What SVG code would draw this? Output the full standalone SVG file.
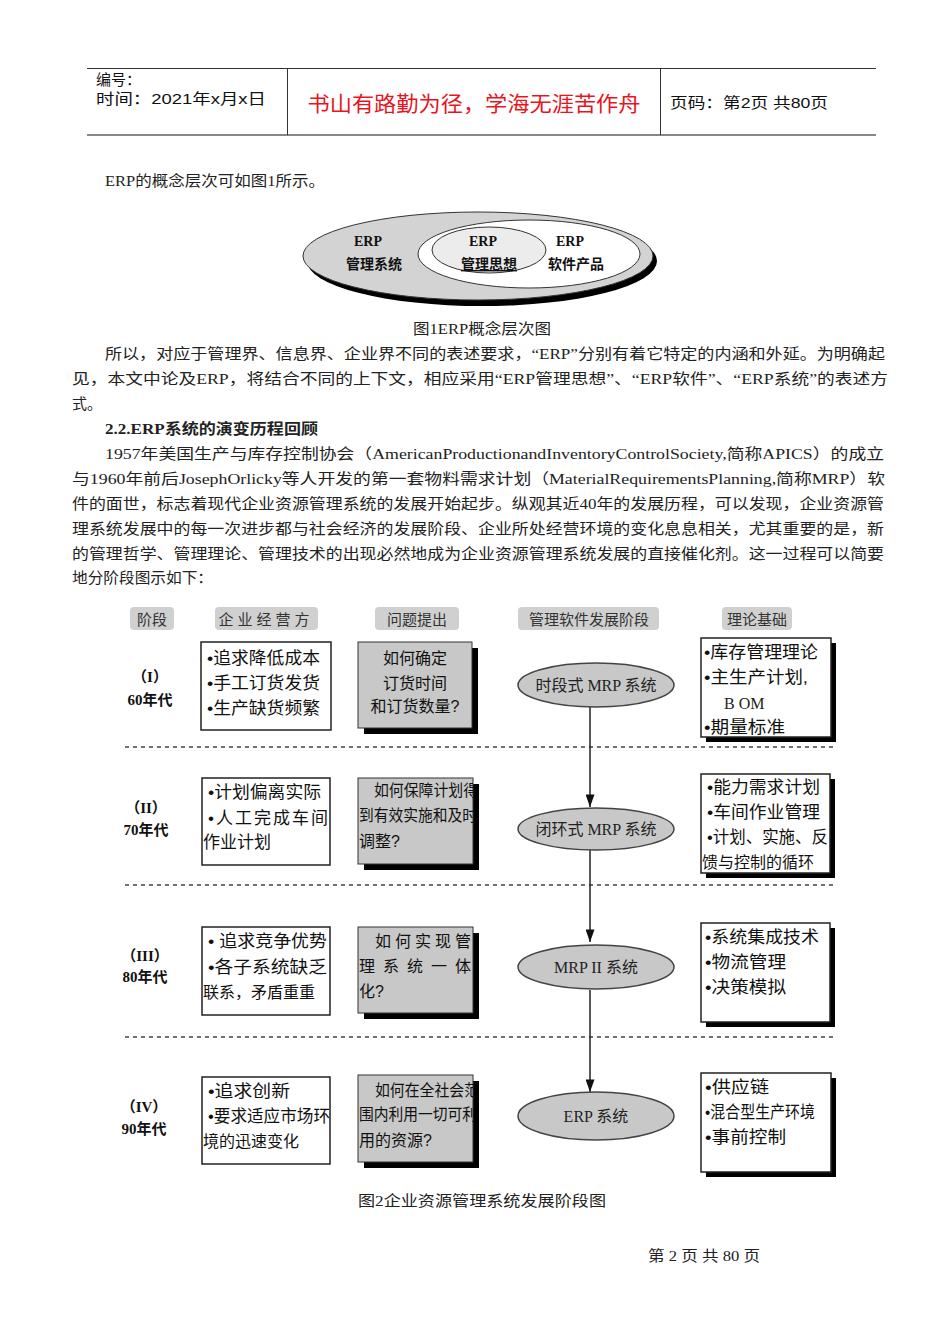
<svg xmlns="http://www.w3.org/2000/svg" width="950" height="1344" viewBox="0 0 950 1344">
<defs>
<style>
.hd{font-family:"Liberation Sans","Noto Sans CJK SC",sans-serif;font-size:15px;fill:#111}
.bd{font-family:"Liberation Serif","Noto Sans CJK SC",serif;font-size:15px;fill:#222}
.f1{font-family:"Liberation Serif","Noto Sans CJK SC",serif;font-weight:bold;fill:#111}
.lb{font-family:"Noto Sans CJK SC",sans-serif;font-size:15px;fill:#333}
.tx{font-family:"Liberation Sans","Noto Sans CJK SC",sans-serif;font-size:16px;fill:#111}
.bl{font-family:"Liberation Sans","Noto Sans CJK SC",sans-serif;font-size:17px;fill:#111}
.et{font-family:"Liberation Serif","Noto Sans CJK SC",serif;font-size:16px;fill:#222}
.rl{font-family:"Liberation Serif","Noto Sans CJK SC",serif;font-weight:bold;font-size:15px;fill:#111}
.wbox{fill:#fff;stroke:#222;stroke-width:1.5}
.gbox{fill:#c8c8c8;stroke:#333;stroke-width:1}
.shadow{fill:#000}
.lab{fill:#d0d0d0}
.ell{fill:#c8c8c8;stroke:#444;stroke-width:1.5}
.dash{stroke:#444;stroke-width:1.5;stroke-dasharray:4 4}
.conn{stroke:#222;stroke-width:1.5;fill:none}
</style>
<marker id="arr" viewBox="0 0 14 10" refX="14" refY="5" markerWidth="13" markerHeight="9" markerUnits="userSpaceOnUse" orient="auto">
<path d="M0,0 L14,5 L0,10 z" fill="#111"/>
</marker>
<clipPath id="c2"><rect x="358" y="778" width="115" height="86"/></clipPath>
<clipPath id="c4"><rect x="358" y="1075" width="115" height="87"/></clipPath>
</defs>
<rect width="950" height="1344" fill="#fff"/>

<g id="header">
<line x1="87" y1="68.5" x2="876" y2="68.5" stroke="#333" stroke-width="1"/>
<line x1="87" y1="135" x2="876" y2="135" stroke="#888" stroke-width="2"/>
<line x1="287.5" y1="68" x2="287.5" y2="135" stroke="#333" stroke-width="1"/>
<line x1="660.5" y1="68" x2="660.5" y2="135" stroke="#333" stroke-width="1"/>
<text class="hd" x="96" y="85">编号：</text>
<text class="hd" x="96" y="104" textLength="170" lengthAdjust="spacingAndGlyphs">时间：2021年x月x日</text>
<text x="474" y="111" text-anchor="middle" font-family="Noto Sans CJK SC,sans-serif" font-size="21" fill="#e8141e" textLength="333" lengthAdjust="spacingAndGlyphs">书山有路勤为径，学海无涯苦作舟</text>
<text class="hd" x="670" y="108" textLength="158" lengthAdjust="spacingAndGlyphs">页码：第2页 共80页</text>
</g>

<g id="body-text">
<text class="bd" x="105" y="186" textLength="220" lengthAdjust="spacingAndGlyphs">ERP的概念层次可如图1所示。</text>
<text class="bd" x="413" y="334" textLength="138" lengthAdjust="spacingAndGlyphs">图1ERP概念层次图</text>
<text class="bd" x="105" y="359" textLength="780" lengthAdjust="spacingAndGlyphs">所以，对应于管理界、信息界、企业界不同的表述要求，“ERP”分别有着它特定的内涵和外延。为明确起</text>
<text class="bd" x="72" y="384" textLength="816" lengthAdjust="spacingAndGlyphs">见，本文中论及ERP，将结合不同的上下文，相应采用“ERP管理思想”、“ERP软件”、“ERP系统”的表述方</text>
<text class="bd" x="72" y="409">式。</text>
<text class="bd" x="105" y="434" font-weight="bold" textLength="213" lengthAdjust="spacingAndGlyphs">2.2.ERP系统的演变历程回顾</text>
<text class="bd" x="105" y="459" textLength="779" lengthAdjust="spacingAndGlyphs">1957年美国生产与库存控制协会（AmericanProductionandInventoryControlSociety,简称APICS）的成立</text>
<text class="bd" x="72" y="484" textLength="813" lengthAdjust="spacingAndGlyphs">与1960年前后JosephOrlicky等人开发的第一套物料需求计划（MaterialRequirementsPlanning,简称MRP）软</text>
<text class="bd" x="72" y="509" textLength="812" lengthAdjust="spacingAndGlyphs">件的面世，标志着现代企业资源管理系统的发展开始起步。纵观其近40年的发展历程，可以发现，企业资源管</text>
<text class="bd" x="72" y="534" textLength="812" lengthAdjust="spacingAndGlyphs">理系统发展中的每一次进步都与社会经济的发展阶段、企业所处经营环境的变化息息相关，尤其重要的是，新</text>
<text class="bd" x="72" y="559" textLength="812" lengthAdjust="spacingAndGlyphs">的管理哲学、管理理论、管理技术的出现必然地成为企业资源管理系统发展的直接催化剂。这一过程可以简要</text>
<text class="bd" x="72" y="583" textLength="141" lengthAdjust="spacingAndGlyphs">地分阶段图示如下：</text>
<text class="bd" x="358" y="1206" textLength="248" lengthAdjust="spacingAndGlyphs">图2企业资源管理系统发展阶段图</text>
<text class="bd" x="648" y="1261" font-size="13" textLength="112" lengthAdjust="spacingAndGlyphs">第 2 页 共 80 页</text>
</g>

<g id="fig1">
<ellipse cx="482" cy="261" rx="175" ry="45" fill="#000"/>
<ellipse cx="478" cy="256" rx="175" ry="44" fill="#d3d3d3" stroke="#333" stroke-width="1"/>
<ellipse cx="529" cy="254" rx="111" ry="34" fill="#fff" stroke="#333" stroke-width="1"/>
<ellipse cx="489" cy="250" rx="57" ry="23" fill="#ececec" stroke="#333" stroke-width="1"/>
<text class="f1" x="368" y="246" font-size="14" text-anchor="middle">ERP</text>
<text class="f1" x="374" y="269" font-size="14" text-anchor="middle">管理系统</text>
<text class="f1" x="483" y="246" font-size="14" text-anchor="middle">ERP</text>
<text class="f1" x="489" y="269" font-size="14" text-anchor="middle" text-decoration="underline">管理思想</text>
<text class="f1" x="570" y="246" font-size="14" text-anchor="middle">ERP</text>
<text class="f1" x="576" y="269" font-size="14" text-anchor="middle">软件产品</text>
</g>

<g id="col-headers">
<rect class="lab" x="130" y="607" width="44" height="23" rx="4"/>
<text class="lb" x="152" y="625" text-anchor="middle">阶段</text>
<rect class="lab" x="215" y="607" width="103" height="23" rx="4"/>
<text class="lb" x="266" y="625" text-anchor="middle" letter-spacing="4">企业经营方</text>
<rect class="lab" x="375" y="607" width="84" height="23" rx="4"/>
<text class="lb" x="417" y="625" text-anchor="middle">问题提出</text>
<rect class="lab" x="518" y="607" width="141" height="23" rx="4"/>
<text class="lb" x="589" y="625" text-anchor="middle">管理软件发展阶段</text>
<rect class="lab" x="722" y="607" width="70" height="23" rx="4"/>
<text class="lb" x="757" y="625" text-anchor="middle">理论基础</text>
</g>

<g id="separators">
<line class="dash" x1="125" y1="747" x2="835" y2="747"/>
<line class="dash" x1="125" y1="885" x2="835" y2="885"/>
<line class="dash" x1="125" y1="1037" x2="835" y2="1037"/>
</g>

<g id="connectors">
<line class="conn" x1="590" y1="707" x2="590" y2="807" marker-end="url(#arr)"/>
<line class="conn" x1="590" y1="850" x2="590" y2="942" marker-end="url(#arr)"/>
<line class="conn" x1="590" y1="990" x2="590" y2="1092" marker-end="url(#arr)"/>
</g>

<g id="row1">
<text class="rl" x="150" y="682" text-anchor="middle">（I）</text>
<text class="rl" x="150" y="705" text-anchor="middle">60年代</text>
</g>
<g id="biz1">
<rect class="wbox" x="201" y="642" width="130" height="88"/>
<text class="bl" x="207" y="664" textLength="113" lengthAdjust="spacingAndGlyphs">•追求降低成本</text>
<text class="bl" x="207" y="689" textLength="113" lengthAdjust="spacingAndGlyphs">•手工订货发货</text>
<text class="bl" x="207" y="714" textLength="113" lengthAdjust="spacingAndGlyphs">•生产缺货频繁</text>
</g>
<g id="q1">
<rect class="shadow" x="364" y="648" width="114" height="86"/>
<rect class="gbox" x="358" y="642" width="114" height="86"/>
<text class="tx" x="415" y="664" text-anchor="middle" font-size="15">如何确定</text>
<text class="tx" x="415" y="689" text-anchor="middle" font-size="15">订货时间</text>
<text class="tx" x="415" y="712" text-anchor="middle" font-size="15">和订货数量?</text>
</g>
<g id="sw1">
<ellipse class="ell" cx="596" cy="685" rx="78" ry="22"/>
<text class="et" x="596" y="691" text-anchor="middle">时段式 MRP 系统</text>
</g>
<g id="th1">
<rect class="shadow" x="706" y="643" width="130" height="99"/>
<rect class="wbox" x="701" y="638" width="130" height="99"/>
<text class="bl" x="704" y="658" textLength="114" lengthAdjust="spacingAndGlyphs">•库存管理理论</text>
<text class="bl" x="704" y="683" textLength="104" lengthAdjust="spacingAndGlyphs">•主生产计划,</text>
<text class="et" x="724" y="709">B OM</text>
<text class="bl" x="704" y="733" textLength="81" lengthAdjust="spacingAndGlyphs">•期量标准</text>
</g>

<g id="row2">
<text class="rl" x="146" y="813" text-anchor="middle">（II）</text>
<text class="rl" x="146" y="835" text-anchor="middle">70年代</text>
</g>
<g id="biz2">
<rect class="wbox" x="202" y="778" width="128" height="87"/>
<text class="bl" x="208" y="798" textLength="113" lengthAdjust="spacingAndGlyphs">•计划偏离实际</text>
<text class="bl" x="208" y="824" textLength="120" lengthAdjust="spacing">•人工完成车间</text>
<text class="bl" x="203" y="848">作业计划</text>
</g>
<g id="q2">
<rect class="shadow" x="364" y="784" width="115" height="86"/>
<rect class="gbox" x="358" y="778" width="115" height="86"/>
<g clip-path="url(#c2)">
<text class="tx" x="374" y="796" font-size="15" textLength="104" lengthAdjust="spacingAndGlyphs">如何保障计划得</text>
<text class="tx" x="359" y="821" font-size="15" textLength="118" lengthAdjust="spacingAndGlyphs">到有效实施和及时</text>
<text class="tx" x="359" y="847" font-size="15">调整?</text>
</g>
</g>
<g id="sw2">
<ellipse class="ell" cx="596" cy="829" rx="78" ry="21"/>
<text class="et" x="596" y="835" text-anchor="middle">闭环式 MRP 系统</text>
</g>
<g id="th2">
<rect class="shadow" x="706" y="779" width="129" height="99"/>
<rect class="wbox" x="701" y="774" width="129" height="99"/>
<text class="bl" x="707" y="793" textLength="113" lengthAdjust="spacingAndGlyphs">•能力需求计划</text>
<text class="bl" x="707" y="818" textLength="113" lengthAdjust="spacingAndGlyphs">•车间作业管理</text>
<text class="bl" x="707" y="843" textLength="121" lengthAdjust="spacingAndGlyphs">•计划、实施、反</text>
<text class="tx" x="702" y="868">馈与控制的循环</text>
</g>

<g id="row3">
<text class="rl" x="145" y="961" text-anchor="middle">（III）</text>
<text class="rl" x="145" y="982" text-anchor="middle">80年代</text>
</g>
<g id="biz3">
<rect class="wbox" x="202" y="927" width="128" height="88"/>
<text class="bl" x="208" y="947" textLength="119" lengthAdjust="spacingAndGlyphs">•  追求竞争优势</text>
<text class="bl" x="208" y="973" textLength="119" lengthAdjust="spacingAndGlyphs">•各子系统缺乏</text>
<text class="tx" x="203" y="998">联系，矛盾重重</text>
</g>
<g id="q3">
<rect class="shadow" x="364" y="933" width="115" height="86"/>
<rect class="gbox" x="358" y="927" width="115" height="86"/>
<text class="tx" x="375" y="947" font-size="15" textLength="96" lengthAdjust="spacing">如何实现管</text>
<text class="tx" x="359" y="972" font-size="15" textLength="112" lengthAdjust="spacing">理系统一体</text>
<text class="tx" x="359" y="997" font-size="15">化?</text>
</g>
<g id="sw3">
<ellipse class="ell" cx="596" cy="967" rx="78" ry="22"/>
<text class="et" x="596" y="973" text-anchor="middle">MRP II 系统</text>
</g>
<g id="th3">
<rect class="shadow" x="706" y="928" width="129" height="99"/>
<rect class="wbox" x="701" y="923" width="129" height="99"/>
<text class="bl" x="705" y="943" textLength="114" lengthAdjust="spacingAndGlyphs">•系统集成技术</text>
<text class="bl" x="705" y="968" textLength="81" lengthAdjust="spacingAndGlyphs">•物流管理</text>
<text class="bl" x="705" y="993" textLength="81" lengthAdjust="spacingAndGlyphs">•决策模拟</text>
</g>

<g id="row4">
<text class="rl" x="144" y="1112" text-anchor="middle">（IV）</text>
<text class="rl" x="144" y="1134" text-anchor="middle">90年代</text>
</g>
<g id="biz4">
<rect class="wbox" x="202" y="1077" width="128" height="87"/>
<text class="bl" x="208" y="1097" textLength="82" lengthAdjust="spacingAndGlyphs">•追求创新</text>
<text class="bl" x="208" y="1122" textLength="122" lengthAdjust="spacingAndGlyphs">•要求适应市场环</text>
<text class="tx" x="203" y="1147">境的迅速变化</text>
</g>
<g id="q4">
<rect class="shadow" x="364" y="1081" width="115" height="87"/>
<rect class="gbox" x="358" y="1075" width="115" height="87"/>
<g clip-path="url(#c4)">
<text class="tx" x="375" y="1096" font-size="15" textLength="104" lengthAdjust="spacingAndGlyphs">如何在全社会范</text>
<text class="tx" x="359" y="1120" font-size="15" textLength="118" lengthAdjust="spacingAndGlyphs">围内利用一切可利</text>
<text class="tx" x="359" y="1146" font-size="15">用的资源?</text>
</g>
</g>
<g id="sw4">
<ellipse class="ell" cx="596" cy="1116" rx="78" ry="24"/>
<text class="et" x="596" y="1122" text-anchor="middle">ERP 系统</text>
</g>
<g id="th4">
<rect class="shadow" x="706" y="1078" width="130" height="99"/>
<rect class="wbox" x="701" y="1073" width="130" height="99"/>
<text class="bl" x="705" y="1093" textLength="64" lengthAdjust="spacingAndGlyphs">•供应链</text>
<text class="bl" x="705" y="1118" textLength="110" lengthAdjust="spacingAndGlyphs">•混合型生产环境</text>
<text class="bl" x="705" y="1143" textLength="81" lengthAdjust="spacingAndGlyphs">•事前控制</text>
</g>
</svg>
